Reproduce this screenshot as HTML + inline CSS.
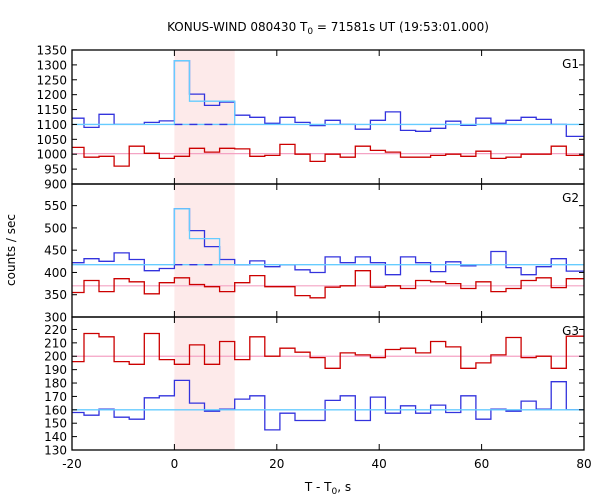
<!DOCTYPE html>
<html><head><meta charset="utf-8"><style>
body{margin:0;background:#fff;}
svg{display:block;font-family:"DejaVu Sans","Liberation Sans",sans-serif;}
</style></head><body>
<svg id="chart" width="600" height="500" viewBox="0 0 600 500" xmlns="http://www.w3.org/2000/svg">
<text x="328" y="31" font-size="12" text-anchor="middle">KONUS-WIND 080430 T<tspan font-size="9" dy="3">0</tspan><tspan dy="-3"> = 71581s UT (19:53:01.000)</tspan></text>
<text transform="translate(15,250) rotate(-90)" font-size="12" text-anchor="middle">counts / sec</text>
<text x="328" y="491" font-size="12" text-anchor="middle">T - T<tspan font-size="9" dy="3">0</tspan><tspan dy="-3">, s</tspan></text>
<g id="plot"></g>
</svg>
<script>
const binWidth = 2.944;
const firstBin = -7;
const xTicks = [-20, 0, 20, 40, 60, 80];
const g1Blue = [1121,1090,1134,1100,1100,1107,1112,1314,1202,1164,1175,1131,1124,1104,1124,1107,1096,1114,1100,1084,1114,1142,1080,1077,1087,1111,1097,1121,1104,1114,1124,1117,1100,1060];
const g1Red = [1023,990,993,960,1027,1003,986,993,1020,1007,1020,1018,993,996,1033,1000,976,1000,990,1027,1013,1007,990,990,996,1000,993,1010,986,990,1000,1000,1027,996];
const g1Peak = [1314,1178,1178,1178];
const g1BlueBg = 1100, g1RedBg = 1002;
const g1Ticks = [900,950,1000,1050,1100,1150,1200,1250,1300,1350];
const g2Blue = [422,431,425,444,429,404,409,543,494,458,429,417,426,413,417,406,400,435,422,435,422,395,435,422,402,424,415,417,447,411,395,413,431,403];
const g2Red = [355,382,357,386,379,352,377,388,373,368,357,377,393,368,368,348,343,367,370,404,367,370,364,382,379,375,364,379,357,364,382,388,366,386];
const g2Peak = [543,476,476];
const g2BlueBg = 417.5, g2RedBg = 370;
const g2Ticks = [300,350,400,450,500,550];
const g3Blue = [158,156,160.5,154.5,153,169,170.5,182,165,159,160.5,168,170.5,145,157.5,152,152,167,170.5,152,169.5,157.5,163,157.5,163.5,158,170.5,153,160.5,159,166.5,160.5,181,160];
const g3Red = [196,217,214.5,196,194,217,197.5,194,208.5,194,211,197.5,214.5,200,206,203,199,191,202.5,201,199,205,206,202.5,211,207,191,195,201,214,199,200,191,215];
const g3Peak = [];
const g3BlueBg = 160, g3RedBg = 200;
const g3Ticks = [130,140,150,160,170,180,190,200,210,220];
const shadeStart = 0, shadeEnd = 11.776;

const NS = "http://www.w3.org/2000/svg";
const plot = document.getElementById('plot');
const L = 72, R = 584, xMin = -20, xMax = 80;
const xs = v => L + (v - xMin) / (xMax - xMin) * (R - L);
function mk(tag, attrs, parent) {
  const e = document.createElementNS(NS, tag);
  for (const k in attrs) e.setAttribute(k, attrs[k]);
  (parent || plot).appendChild(e);
  return e;
}
const panels = [
  {name:'g1', top:50, bot:184, lo:900, hi:1350, blue:g1Blue, red:g1Red, peak:g1Peak, bb:g1BlueBg, rb:g1RedBg, ticks:g1Ticks},
  {name:'g2', top:184, bot:317, lo:300, hi:598.6, blue:g2Blue, red:g2Red, peak:g2Peak, bb:g2BlueBg, rb:g2RedBg, ticks:g2Ticks},
  {name:'g3', top:317, bot:450, lo:130, hi:229.3, blue:g3Blue, red:g3Red, peak:g3Peak, bb:g3BlueBg, rb:g3RedBg, ticks:g3Ticks}
];
const sh = mk('rect', {x:xs(shadeStart), y:50, width:xs(shadeEnd)-xs(shadeStart), height:400, fill:'#fdeaea'});



function stepPath(vals, ys, startBin) {
  let d = '';
  vals.forEach((v, i) => {
    const k = startBin + i;
    let a = Math.max(k * binWidth, xMin);
    let b = Math.min((k + 1) * binWidth, xMax);
    if (startBin === firstBin && i === vals.length - 1) b = xMax;
    const y = ys(v).toFixed(1);
    d += (i === 0 ? 'M' : 'L') + xs(a).toFixed(1) + ',' + y + 'L' + xs(b).toFixed(1) + ',' + y;
  });
  return d;
}
panels.forEach((p, pi) => {
  const ys = v => p.bot - (v - p.lo) / (p.hi - p.lo) * (p.bot - p.top);
  const g = mk('g', {});
  
  
  const rl = mk('line', {x1:L, x2:R, y1:ys(p.rb), y2:ys(p.rb), stroke:'#f4a3c4', 'stroke-width':1.2}, g);
  
  
  const rp = mk('path', {d:stepPath(p.red, ys, firstBin), fill:'none', stroke:'#cc0000', 'stroke-width':1.3}, g);
  
  
  const bp = mk('path', {d:stepPath(p.blue, ys, firstBin), fill:'none', stroke:'#3333dd', 'stroke-width':1.3}, g);
  
  
  const bl = mk('line', {x1:L, x2:R, y1:ys(p.bb), y2:ys(p.bb), stroke:'#66ccff', 'stroke-width':1.3}, g);
  
  
  if (p.peak.length) {
    const dl = mk('line', {x1:xs(0), x2:xs(p.peak.length*binWidth), y1:ys(p.bb), y2:ys(p.bb), stroke:'#3333dd', 'stroke-width':1.3, 'stroke-dasharray':'8,7'}, g);
    
    
    let d = 'M' + xs(0).toFixed(1) + ',' + ys(p.bb).toFixed(1);
    p.peak.forEach((v, i) => {
      d += 'L' + xs(i*binWidth).toFixed(1) + ',' + ys(v).toFixed(1) + 'L' + xs((i+1)*binWidth).toFixed(1) + ',' + ys(v).toFixed(1);
    });
    d += 'L' + xs(p.peak.length*binWidth).toFixed(1) + ',' + ys(p.bb).toFixed(1);
    const cp = mk('path', {d:d, fill:'none', stroke:'#66ccff', 'stroke-width':1.3}, g);
    
    
  }
  const fr = mk('rect', {x:L, y:p.top, width:R-L, height:p.bot-p.top, fill:'none', stroke:'#000', 'stroke-width':1.3}, g);
  
  
  p.ticks.forEach(t => {
    const y = ys(t);
    mk('line', {x1:L, x2:L+5, y1:y, y2:y, stroke:'#000'}, g);
    mk('line', {x1:R-5, x2:R, y1:y, y2:y, stroke:'#000'}, g);
    const tl = mk('text', {x:L-5, y:y+4.5, 'font-size':12, 'text-anchor':'end'}, g);
    tl.textContent = t;
    
    
  });
  xTicks.forEach(t => {
    const x = xs(t);
    mk('line', {x1:x, x2:x, y1:p.top, y2:p.top+6, stroke:'#000'}, g);
    mk('line', {x1:x, x2:x, y1:p.bot-6, y2:p.bot, stroke:'#000'}, g);
  });
  const lab = mk('text', {x:579, y:p.top+18, 'font-size':12, 'text-anchor':'end'}, g);
  lab.textContent = 'G' + (pi+1);
  
  
});
xTicks.forEach(t => {
  const tl = mk('text', {x:xs(t), y:468, 'font-size':12, 'text-anchor':'middle'});
  tl.textContent = t;
  
  
});
</script>
</body></html>
